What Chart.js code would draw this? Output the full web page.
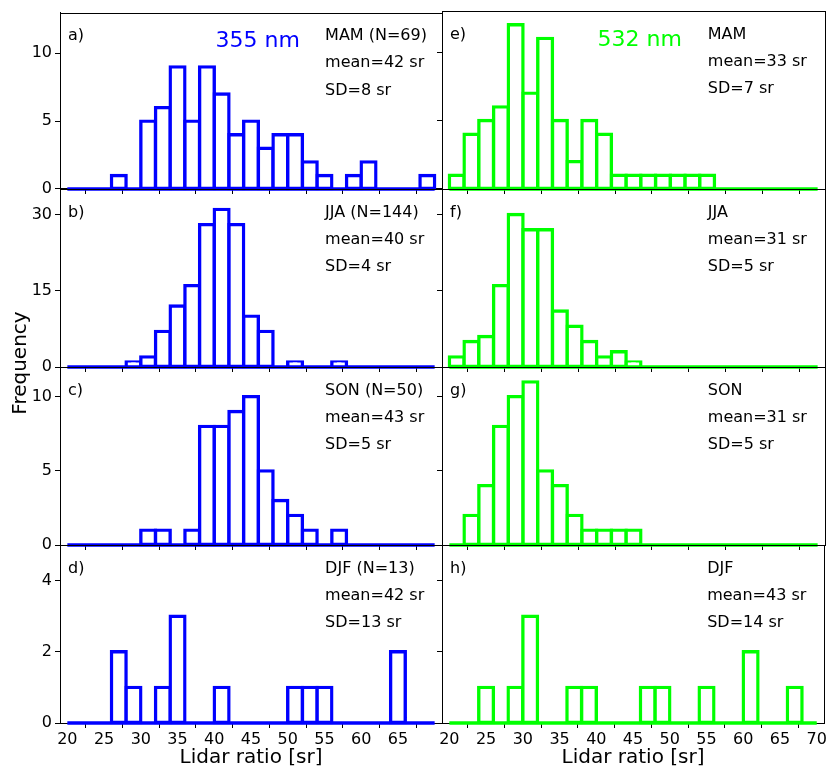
<html>
<head>
<style>
  body { margin: 0; background: #fff; }
  #wrap { position: relative; width: 829px; height: 770px; }
  #wrap canvas { position: absolute; left: 0; top: 0; }
</style>
</head>
<body>
<div id="wrap"></div>

<script src="https://cdn.jsdelivr.net/npm/chart.js"></script>
<script>
  "use strict";

  // histogram bins (lower edges, width 2 sr)
  const binStart = [20, 22, 24, 26, 28, 30, 32, 34, 36, 38, 40, 42, 44, 46, 48, 50, 52, 54, 56, 58, 60, 62, 64, 66, 68];
  const xTicks = [20, 25, 30, 35, 40, 45, 50, 55, 60, 65, 70];

  // 355 nm counts
  const c355MAM = [0, 0, 0, 1, 0, 5, 6, 9, 5, 9, 7, 4, 5, 3, 4, 4, 2, 1, 0, 1, 2, 0, 0, 0, 1];
  const c355JJA = [0, 0, 0, 0, 1, 2, 7, 12, 16, 28, 31, 28, 10, 7, 0, 1, 0, 0, 1, 0, 0, 0, 0, 0, 0];
  const c355SON = [0, 0, 0, 0, 0, 1, 1, 0, 1, 8, 8, 9, 10, 5, 3, 2, 1, 0, 1, 0, 0, 0, 0, 0, 0];
  const c355DJF = [0, 0, 0, 2, 1, 0, 1, 3, 0, 0, 1, 0, 0, 0, 0, 1, 1, 1, 0, 0, 0, 0, 2, 0, 0];

  // 532 nm counts
  const c532MAM = [1, 4, 5, 6, 12, 7, 11, 5, 2, 5, 4, 1, 1, 1, 1, 1, 1, 1, 0, 0, 0, 0, 0, 0, 0];
  const c532JJA = [2, 5, 6, 16, 30, 27, 27, 11, 8, 5, 2, 3, 1, 0, 0, 0, 0, 0, 0, 0, 0, 0, 0, 0, 0];
  const c532SON = [0, 2, 4, 8, 10, 11, 5, 4, 2, 1, 1, 1, 1, 0, 0, 0, 0, 0, 0, 0, 0, 0, 0, 0, 0];
  const c532DJF = [0, 0, 1, 0, 1, 3, 0, 0, 1, 1, 0, 0, 0, 1, 1, 0, 0, 1, 0, 0, 2, 0, 0, 1, 0];

  // y axis per row
  const yMax = [13, 35, 12, 5];
  const yTicks = [[0, 5, 10], [0, 15, 30], [0, 5, 10], [0, 2, 4]];

  const blue = '#0000ff';
  const green = '#00ff00';

  const panels = [
    { tag: 'a)', row: 0, col: 0, counts: c355MAM, color: blue, lines: ['MAM (N=69)', 'mean=42 sr', 'SD=8 sr'], title: '355 nm' },
    { tag: 'b)', row: 1, col: 0, counts: c355JJA, color: blue, lines: ['JJA (N=144)', 'mean=40 sr', 'SD=4 sr'] },
    { tag: 'c)', row: 2, col: 0, counts: c355SON, color: blue, lines: ['SON (N=50)', 'mean=43 sr', 'SD=5 sr'] },
    { tag: 'd)', row: 3, col: 0, counts: c355DJF, color: blue, lines: ['DJF (N=13)', 'mean=42 sr', 'SD=13 sr'] },
    { tag: 'e)', row: 0, col: 1, counts: c532MAM, color: green, lines: ['MAM', 'mean=33 sr', 'SD=7 sr'], title: '532 nm' },
    { tag: 'f)', row: 1, col: 1, counts: c532JJA, color: green, lines: ['JJA', 'mean=31 sr', 'SD=5 sr'] },
    { tag: 'g)', row: 2, col: 1, counts: c532SON, color: green, lines: ['SON', 'mean=31 sr', 'SD=5 sr'] },
    { tag: 'h)', row: 3, col: 1, counts: c532DJF, color: green, lines: ['DJF', 'mean=43 sr', 'SD=14 sr'] }
  ];

  // page geometry of the axes boxes
  const W = 829, H = 770;
  const colLeft = [60, 442], colRight = [442, 825];
  const rowTop = [11, 189, 367, 545], rowBottom = [189, 367, 545, 723];

  Chart.defaults.font.family = "'DejaVu Sans', sans-serif";
  Chart.defaults.color = '#000';

  const wrap = document.getElementById('wrap');

  function makePanel(p, idx) {
      const canvas = document.createElement('canvas');
      canvas.width = W;
      canvas.height = H;
      wrap.appendChild(canvas);

      const yW = p.col === 0 ? 40 : 10;
      const isBottom = p.row === 3;
      const xH = isBottom ? 47 : 8;

      const panelPlugin = {
          id: 'panel' + idx,
          beforeDatasetsDraw(chart) {
              const ctx = chart.ctx, a = chart.chartArea;
              ctx.save();
              ctx.strokeStyle = '#000';
              ctx.lineWidth = 1;
              ctx.strokeRect(Math.round(a.left) + 0.5, Math.round(a.top) + 0.5,
                             Math.round(a.right - a.left), Math.round(a.bottom - a.top));
              ctx.restore();
          },
          afterDraw(chart) {
              const ctx = chart.ctx, a = chart.chartArea;
              ctx.save();
              ctx.textBaseline = 'alphabetic';
              ctx.textAlign = 'left';
              ctx.fillStyle = '#000';
              ctx.font = "16px 'DejaVu Sans'";
              ctx.fillText(p.tag, a.left + 8, a.top + 27.5);
              const tx = a.left + 0.694 * (a.right - a.left);
              p.lines.forEach((t, i) => ctx.fillText(t, tx, a.top + 27.5 + 27.2 * i));
              if (p.title) {
                  ctx.font = "22px 'DejaVu Sans'";
                  ctx.fillStyle = p.color;
                  ctx.fillText(p.title, a.left + 155.5, a.top + 34.7);
              }
              if (idx === 0) {
                  ctx.translate(25.5, 363);
                  ctx.rotate(-Math.PI / 2);
                  ctx.textAlign = 'center';
                  ctx.fillStyle = '#000';
                  ctx.font = "20px 'DejaVu Sans'";
                  ctx.fillText('Frequency', 0, 0);
              }
              ctx.restore();
          }
      };

      const tickGrid = { drawOnChartArea: false, drawTicks: true, tickLength: 5, color: '#000', lineWidth: 1 };

      new Chart(canvas, {
          type: 'bar',
          data: {
              datasets: [
                  {
                      type: 'line',
                      data: [{ x: binStart[0], y: 0 }, { x: binStart[binStart.length - 1] + 2, y: 0 }],
                      borderColor: p.color,
                      borderWidth: 3.4,
                      pointRadius: 0,
                      clip: false,
                      order: 0
                  },
                  {
                      data: binStart.map((b, i) => ({ x: b + 1, y: p.counts[i] })),
                      backgroundColor: '#fff',
                      borderColor: p.color,
                      borderWidth: 3.4,
                      borderSkipped: false,
                      inflateAmount: 1.7,
                      barPercentage: 1,
                      categoryPercentage: 1,
                      clip: false,
                      order: 1
                  }
              ]
          },
          options: {
              responsive: false,
              animation: false,
              events: [],
              layout: {
                  padding: {
                      left: colLeft[p.col] - yW,
                      right: W - colRight[p.col],
                      top: rowTop[p.row],
                      bottom: H - rowBottom[p.row] - xH
                  }
              },
              plugins: { legend: { display: false }, tooltip: { enabled: false } },
              scales: {
                  x: {
                      type: 'linear',
                      min: 19,
                      max: 71,
                      offset: false,
                      afterBuildTicks: s => { s.ticks = xTicks.map(v => ({ value: v })); },
                      afterFit: s => { s.height = xH; },
                      grid: tickGrid,
                      border: { display: true, color: '#000', width: 1 },
                      ticks: {
                          display: isBottom,
                          autoSkip: false,
                          maxRotation: 0,
                          padding: 2,
                          font: { size: 16 },
                          callback: v => (p.col === 0 && v === 70) ? '' : String(v)
                      },
                      title: {
                          display: isBottom,
                          text: 'Lidar ratio [sr]',
                          font: { size: 20 },
                          padding: { top: 0, bottom: 0 }
                      }
                  },
                  y: {
                      type: 'linear',
                      min: 0,
                      max: yMax[p.row],
                      afterBuildTicks: s => { s.ticks = yTicks[p.row].map(v => ({ value: v })); },
                      afterFit: s => { s.width = yW; },
                      grid: tickGrid,
                      border: { display: true, color: '#000', width: 1 },
                      ticks: { display: p.col === 0, padding: 3, font: { size: 16 } }
                  }
              }
          },
          plugins: [panelPlugin]
      });
  }

  panels.forEach(makePanel);
</script>
</body>
</html>
